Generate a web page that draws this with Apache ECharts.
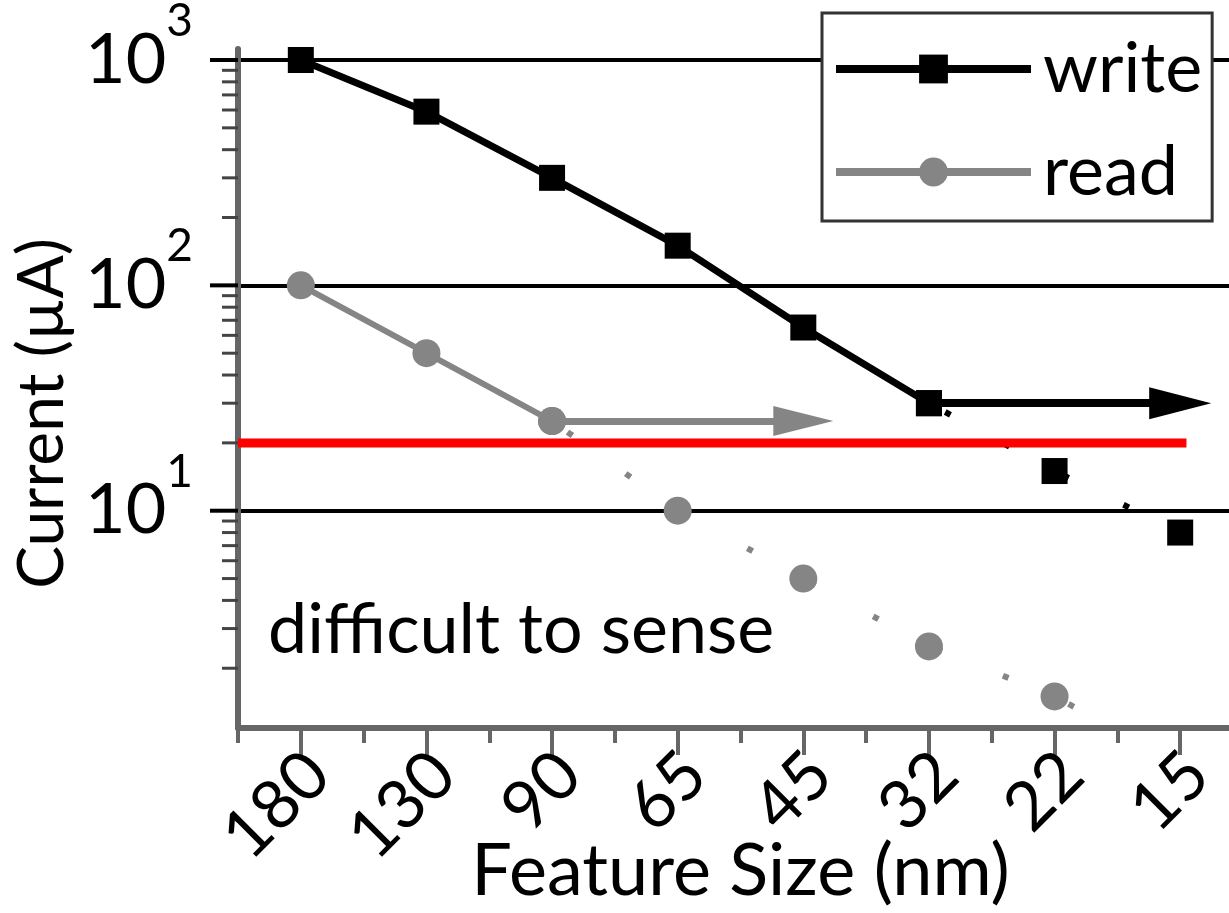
<!DOCTYPE html>
<html>
<head>
<meta charset="utf-8">
<script src="https://cdn.jsdelivr.net/npm/echarts@6/dist/echarts.min.js"></script>
<style>
  html, body { margin: 0; padding: 0; background: #fff; }
  #chart { width: 1229px; height: 913px; }
</style>
</head>
<body>
<div id="chart"></div>
<script>
// ---------- data ----------
const categories = ['180', '130', '90', '65', '45', '32', '22', '15'];
// write current, 180 nm .. 32 nm (solid)
const writeValues = [1000, 590, 300, 150, 65, 30];
// write trend continued, 32 nm .. 15 nm (dotted)
const writeTrend = [30, 15, 8];
// read current, 180 nm .. 90 nm (solid)
const readValues = [100, 50, 25];
// read trend continued, 90 nm .. 15 nm (dotted)
const readTrend = [25, 10, 5, 2.5, 1.5, 0.75];
// arrows: [start category index, end category index, level]
const writeArrow = [5, 7, 30];
const readArrow = [2, 4, 25];
// sensing threshold (red line) and its extent in category units
const thresholdValue = 20;
const thresholdSpan = [-0.5, 7.05];
// y-axis ticks
const yMajorTicks = [10, 100, 1000];
const yMinorTicks = [2, 3, 4, 5, 6, 7, 8, 9, 20, 30, 40, 50, 60, 70, 80, 90,
                     200, 300, 400, 500, 600, 700, 800, 900];

// ---------- helpers ----------
// category index i -> x value (centres on odd numbers, boundaries on even)
const cx = i => 2 * i + 1;
const X_MAX = 16;
const FONT = 'Lato';

const writeData = writeValues.map((v, i) => [cx(i), v]);
const writeTrendData = writeTrend.map((v, i) => [cx(i + 5), v]);
const readData = readValues.map((v, i) => [cx(i), v]);
const readTrendData = readTrend.map((v, i) => [cx(i + 2), v]);
const tickData = yMajorTicks.map(v => [0, v, 1]).concat(yMinorTicks.map(v => [0, v, 0]));

const chart = echarts.init(document.getElementById('chart'), null, { renderer: 'canvas' });

const option = {
  animation: false,
  backgroundColor: '#fff',
  grid: { left: 238, right: -14, top: 49, bottom: 185, containLabel: false, outerBoundsMode: 'none' },
  xAxis: [
    {
      type: 'value', min: 0, max: X_MAX, interval: 2, position: 'bottom',
      axisLine: { show: true, lineStyle: { color: '#666', width: 6 } },
      axisTick: { show: true, length: 15, lineStyle: { color: '#666', width: 4 } },
      minorTick: { show: true, splitNumber: 2, length: 27, lineStyle: { color: '#666', width: 4 } },
      axisLabel: { show: false },
      splitLine: { show: false },
      name: 'Feature Size (nm)', nameLocation: 'middle', nameGap: 108,
      nameTextStyle: { fontFamily: FONT, fontSize: 72, color: '#000' }
    },
    {
      type: 'value', min: 0, max: X_MAX, interval: 1, position: 'bottom',
      axisLine: { show: false }, axisTick: { show: false }, splitLine: { show: false },
      axisLabel: {
        show: true, rotate: 45, margin: 18,
        formatter: v => (Math.round(v) % 2 === 1 && Math.abs(v - Math.round(v)) < 1e-6
          ? '{c|' + categories[(Math.round(v) - 1) / 2] + '}' : ''),
        rich: {
          c: { fontFamily: FONT, fontSize: 68, color: '#000', padding: [50, 0, 0, 0] }
        }
      }
    }
  ],
  yAxis: {
    type: 'log', logBase: 10, min: 1.086, max: 1119,
    axisLine: { show: true, lineStyle: { color: '#666', width: 6 } },
    axisTick: { show: false },
    splitLine: { show: true, showMinLine: false, showMaxLine: false, lineStyle: { color: '#000', width: 4 } },
    axisLabel: {
      margin: 45,
      formatter: v => {
        const l = Math.log10(v), e = Math.round(l);
        if (Math.abs(l - e) > 1e-6) return '';
        return '{b|10}{s|' + e + '}';
      },
      rich: {
        b: { fontFamily: FONT, fontSize: 70, color: '#000' },
        s: { fontFamily: FONT, fontSize: 46, color: '#000', padding: [0, 0, 78, 0] }
      }
    },
    name: 'Current (\u00b5A)', nameLocation: 'middle', nameRotate: 90, nameGap: 150,
    nameTextStyle: { fontFamily: FONT, fontSize: 64, color: '#000', padding: [0, 50, 0, 0] }
  },
  legend: {
    orient: 'vertical', left: 822, top: 13,
    backgroundColor: '#fff', borderColor: '#333', borderWidth: 3, borderRadius: 0,
    padding: [21, 10, 14, 10],
    itemWidth: 195, itemHeight: 36, itemGap: 33,
    lineStyle: { width: 8 },
    textStyle: { fontFamily: FONT, fontSize: 70, color: '#000', lineHeight: 70, padding: [0, 0, 0, 7] },
    data: ['write', 'read']
  },
  graphic: [{
    type: 'text', x: 268, y: 630,
    style: { text: 'difficult to sense', fontFamily: FONT, fontSize: 70, fill: '#000', verticalAlign: 'middle' }
  }],
  series: [
    {
      name: 'ticks', type: 'custom', xAxisIndex: 0, yAxisIndex: 0, data: tickData,
      encode: { x: 0, y: 1 }, clip: false, silent: true, z: 5,
      renderItem: (params, api) => {
        const major = api.value(2) === 1;
        const p = api.coord([0, api.value(1)]);
        return {
          type: 'line',
          shape: { x1: p[0] - (major ? 28 : 16), y1: p[1], x2: p[0], y2: p[1] },
          style: { stroke: major ? '#000' : '#444', lineWidth: major ? 4 : 3 }
        };
      }
    },
    {
      name: 'readTrend', type: 'line', data: readTrendData, z: 3,
      symbol: 'circle', symbolSize: 28, itemStyle: { color: '#858585' },
      lineStyle: { color: '#858585', width: 6, type: [6, 65.5], dashOffset: 52.5, cap: 'butt' }
    },
    {
      name: 'writeTrend', type: 'line', data: writeTrendData, z: 3,
      symbol: 'rect', symbolSize: 26, itemStyle: { color: '#000' },
      lineStyle: { color: '#000', width: 6, type: [6, 61], dashOffset: 48.5, cap: 'butt' }
    },
    {
      name: 'read', type: 'line', data: readData, z: 4,
      symbol: 'circle', symbolSize: 28, itemStyle: { color: '#858585' },
      lineStyle: { color: '#858585', width: 6 },
      markLine: {
        silent: true, symbol: ['none', 'triangle'], symbolSize: [30, 60],
        label: { show: false },
        lineStyle: { color: '#858585', width: 7, type: 'solid' },
        data: [[{ coord: [cx(readArrow[0]), readArrow[2]] }, { coord: [cx(readArrow[1]), readArrow[2]] }]]
      }
    },
    {
      name: 'write', type: 'line', data: writeData, z: 4,
      symbol: 'rect', symbolSize: 26, itemStyle: { color: '#000' },
      lineStyle: { color: '#000', width: 7 },
      markLine: {
        silent: true, symbol: ['none', 'triangle'], symbolSize: [32, 62],
        label: { show: false },
        lineStyle: { color: '#000', width: 8, type: 'solid' },
        data: [[{ coord: [cx(writeArrow[0]), writeArrow[2]] }, { coord: [cx(writeArrow[1]), writeArrow[2]] }]]
      }
    },
    {
      name: 'threshold', type: 'line', z: 6, symbol: 'none',
      data: thresholdSpan.map(s => [cx(s), thresholdValue]),
      lineStyle: { color: '#ff0000', width: 9 }
    }
  ]
};
chart.setOption(option);
</script>
</body>
</html>
